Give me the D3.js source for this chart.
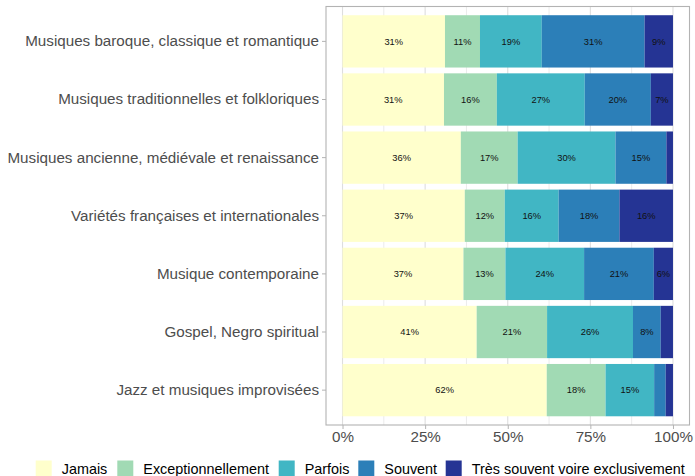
<!DOCTYPE html>
<html>
<head>
<meta charset="utf-8">
<script src="https://cdn.jsdelivr.net/npm/d3@7"></script>
<style>
  body { margin: 0; background: #fff; }
  text { font-family: "Liberation Sans", Arial, sans-serif; }
</style>
</head>
<body>
<div id="chart"></div>
<script>
var categories = [
  "Musiques baroque, classique et romantique",
  "Musiques traditionnelles et folkloriques",
  "Musiques ancienne, médiévale et renaissance",
  "Variétés françaises et internationales",
  "Musique contemporaine",
  "Gospel, Negro spiritual",
  "Jazz et musiques improvisées"
];
var levels = ["Jamais", "Exceptionnellement", "Parfois", "Souvent", "Très souvent voire exclusivement"];
var colors = ["#ffffcc", "#a1dab4", "#41b6c4", "#2c7fb8", "#253494"];

// percentages per level, one value per category (same order as categories)
var jamais    = [31.0, 30.7, 35.8, 37.0, 36.6, 40.6, 61.8];
var exception = [10.6, 16.0, 17.2, 12.1, 12.7, 21.3, 17.8];
var parfois   = [18.7, 26.6, 29.6, 16.3, 23.8, 26.0, 14.7];
var souvent   = [31.1, 20.0, 15.4, 18.4, 21.1,  8.4,  3.5];
var tresSouvent = [8.6, 6.7,  2.0, 16.2,  5.8,  3.7,  2.2];
var labels = [
  ["31%", "11%", "19%", "31%", "9%"],
  ["31%", "16%", "27%", "20%", "7%"],
  ["36%", "17%", "30%", "15%", ""],
  ["37%", "12%", "16%", "18%", "16%"],
  ["37%", "13%", "24%", "21%", "6%"],
  ["41%", "21%", "26%", "8%", ""],
  ["62%", "18%", "15%", "", ""]
];
var xTicks = [0, 0.25, 0.5, 0.75, 1];
var xMinor = [0.125, 0.375, 0.625, 0.875];

var width = 695, height = 476,
    panel = { left: 326, right: 689.5, top: 6.5, bottom: 425 };

var series = [jamais, exception, parfois, souvent, tresSouvent];

var svg = d3.select("#chart").append("svg")
    .attr("width", width)
    .attr("height", height);

var x = d3.scaleLinear()
    .domain([-0.05, 1.05])
    .range([panel.left, panel.right]);

var y = d3.scaleBand()
    .domain(categories)
    .range([panel.top, panel.bottom])
    .paddingInner(0.1)
    .paddingOuter(0.15);

// grid
svg.selectAll(".minor")
    .data(xMinor)
    .enter().append("line")
      .attr("x1", function(d) { return x(d); })
      .attr("x2", function(d) { return x(d); })
      .attr("y1", panel.top)
      .attr("y2", panel.bottom)
      .style("stroke", "#ebebeb")
      .style("stroke-width", 1);

svg.selectAll(".major")
    .data(xTicks)
    .enter().append("line")
      .attr("x1", function(d) { return x(d); })
      .attr("x2", function(d) { return x(d); })
      .attr("y1", panel.top)
      .attr("y2", panel.bottom)
      .style("stroke", "#dedede")
      .style("stroke-width", 1.1);

// stacked segments
var rows = categories.map(function(c, i) {
  var start = 0;
  return series.map(function(s, k) {
    var seg = { cat: c, level: k, x0: start / 100, x1: (start + s[i]) / 100, label: labels[i][k] };
    start += s[i];
    return seg;
  });
});
var segments = d3.merge(rows);

svg.selectAll(".seg")
    .data(segments)
    .enter().append("rect")
      .attr("x", function(d) { return x(d.x0); })
      .attr("y", function(d) { return y(d.cat); })
      .attr("width", function(d) { return x(d.x1) - x(d.x0); })
      .attr("height", y.bandwidth())
      .style("fill", function(d) { return colors[d.level]; });

svg.selectAll(".segLabel")
    .data(segments.filter(function(d) { return d.label !== ""; }))
    .enter().append("text")
      .text(function(d) { return d.label; })
      .attr("x", function(d) { return x((d.x0 + d.x1) / 2); })
      .attr("y", function(d) { return y(d.cat) + y.bandwidth() / 2; })
      .attr("dy", "0.35em")
      .style("text-anchor", "middle")
      .style("font-size", "9.3px")
      .style("fill", "#111");

// panel border
svg.append("rect")
    .attr("x", panel.left)
    .attr("y", panel.top)
    .attr("width", panel.right - panel.left)
    .attr("height", panel.bottom - panel.top)
    .style("fill", "none")
    .style("stroke", "#b3b3b3")
    .style("stroke-width", 1.1);

// y axis
var yAxis = svg.append("g")
    .attr("transform", "translate(" + panel.left + ",0)")
    .call(d3.axisLeft(y).tickSize(4).tickPadding(3));
yAxis.select(".domain").remove();
yAxis.selectAll("line").style("stroke", "#b3b3b3");
yAxis.selectAll("text")
    .style("font-size", "15.2px")
    .style("fill", "#4d4d4d");

// x axis
var xAxis = svg.append("g")
    .attr("transform", "translate(0," + panel.bottom + ")")
    .call(d3.axisBottom(x).tickValues(xTicks).tickFormat(d3.format(".0%")).tickSize(4).tickPadding(2));
xAxis.select(".domain").remove();
xAxis.selectAll("line").style("stroke", "#b3b3b3");
xAxis.selectAll("text")
    .style("font-size", "15.2px")
    .style("fill", "#4d4d4d");

// legend
var keyX = [35.7, 117.3, 278.7, 358.3, 445.7];
var legend = svg.selectAll(".legend")
    .data(levels)
    .enter().append("g")
      .attr("transform", function(d, i) { return "translate(" + keyX[i] + ",460.5)"; });

legend.append("rect")
    .attr("width", 16)
    .attr("height", 17)
    .style("fill", function(d, i) { return colors[i]; });

legend.append("text")
    .text(function(d) { return d; })
    .attr("x", 26)
    .attr("y", 8.5)
    .attr("dy", "0.35em")
    .style("font-size", "14.4px")
    .style("fill", "#000");
</script>
</body>
</html>
